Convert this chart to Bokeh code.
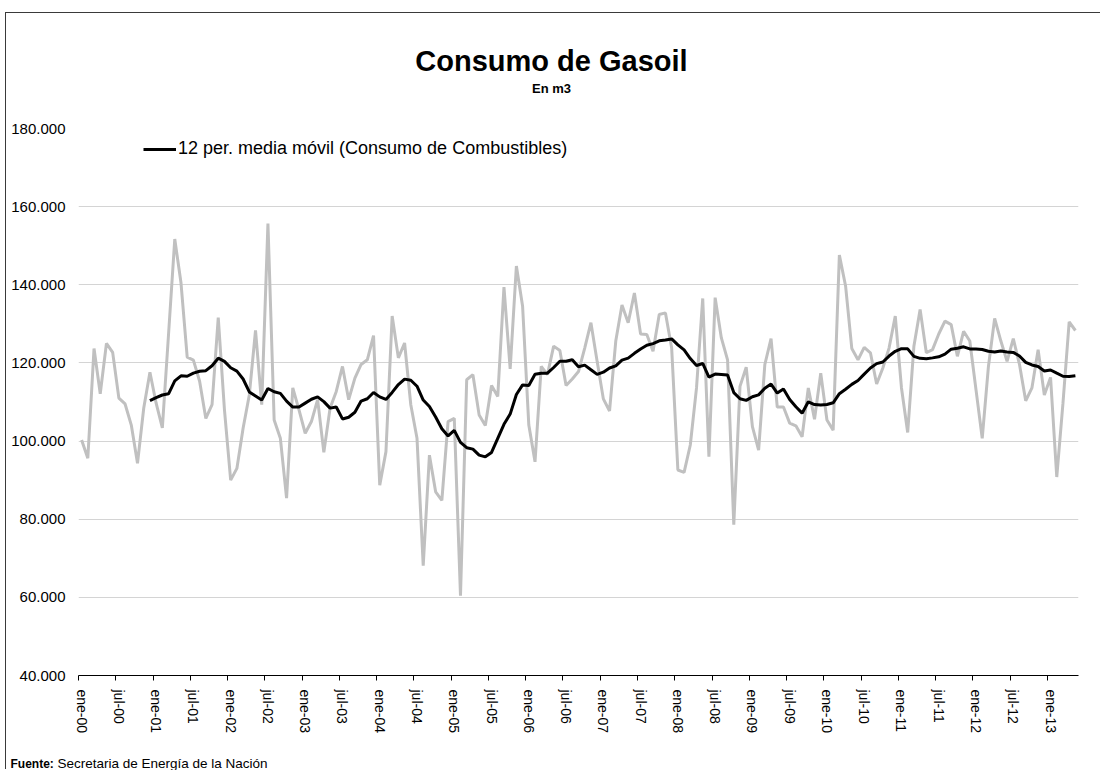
import pandas as pd
from bokeh.plotting import figure
from bokeh.layouts import column
from bokeh.models import (Range1d, FixedTicker, Legend, LegendItem, ColumnDataSource)
from bokeh.core.properties import value
from bokeh.embed import file_html
from bokeh.resources import INLINE

# Monthly diesel consumption (m3)
c2000 = [100300, 95600, 123700, 112100, 125000, 122700, 111000, 109500, 104100, 94300, 108400, 117600]
c2001 = [109700, 103400, 127400, 151700, 140500, 121500, 120700, 115300, 105800, 109300, 131600, 108000]
c2002 = [90000, 93000, 103300, 111800, 128300, 109300, 155700, 105400, 100700, 85400, 113600, 108000]
c2003 = [102000, 105000, 110600, 97100, 108400, 112700, 119100, 110600, 116100, 119600, 120800, 127000]
c2004 = [88700, 97300, 132000, 121300, 125100, 109300, 100700, 68100, 96400, 87000, 84800, 105000]
c2005 = [105800, 60400, 115700, 117000, 106700, 104000, 114200, 111400, 139400, 118500, 144800, 134500]
c2006 = [104100, 94700, 119100, 117000, 124300, 123200, 114200, 115900, 117800, 123800, 130300, 120400]
c2007 = [110800, 107700, 125600, 134800, 130300, 137900, 127400, 127300, 123000, 132400, 132800, 123800]
c2008 = [92600, 92000, 99000, 113600, 136500, 96000, 136700, 126400, 120800, 78600, 114000, 118900]
c2009 = [103700, 97700, 119600, 126200, 108700, 108700, 104600, 103900, 101100, 113600, 105600, 117400]
c2010 = [105400, 102800, 147600, 139700, 123700, 120800, 124000, 122600, 114600, 118700, 123800, 132000]
c2011 = [113600, 102200, 124300, 133700, 122600, 123400, 127400, 130700, 129800, 121700, 128100, 125600]
c2012 = [113100, 100700, 119100, 131400, 125600, 120400, 126200, 119600, 110300, 113600, 123400, 111800]
c2013 = [116300, 90800, 109700, 130500, 128300]

years = ["00", "01", "02", "03", "04", "05", "06", "07", "08", "09", "10", "11", "12", "13"]
months = ["ene", "feb", "mar", "abr", "may", "jun", "jul", "ago", "sep", "oct", "nov", "dic"]
y_ticks = [40000, 60000, 80000, 100000, 120000, 140000, 160000, 180000]
y_tick_labels = ["40.000", "60.000", "80.000", "100.000", "120.000", "140.000", "160.000", "180.000"]

title_text = "Consumo de Gasoil"
subtitle_text = "En m3"
legend_text = "12 per. media móvil (Consumo de Combustibles)"
source_bold = "Fuente:"
source_text = "Secretaria de Energía de la Nación"

consumo = (c2000 + c2001 + c2002 + c2003 + c2004 + c2005 + c2006 + c2007 +
           c2008 + c2009 + c2010 + c2011 + c2012 + c2013)
n = len(consumo)
cat_labels = [f"{m}-{y}" for y in years for m in months][:n]
xs = list(range(n))

# 12-period moving average (Excel trendline over the same series)
ma = pd.Series(consumo, dtype=float).rolling(12).mean()
ma_src = ColumnDataSource(dict(x=[i for i in xs if i >= 11], y=list(ma.dropna())))
src = ColumnDataSource(dict(x=xs, y=consumo))

FONT = "Liberation Sans"
W = 1095


def text_panel(h):
    f = figure(width=W, height=h, output_backend="svg", toolbar_location=None,
               x_range=Range1d(0, W), y_range=Range1d(0, h),
               x_axis_type=None, y_axis_type=None,
               min_border=0, min_border_left=0, min_border_right=0,
               min_border_top=0, min_border_bottom=0)
    f.outline_line_color = None
    f.grid.visible = False
    f.frame_align = False
    return f


# ---- header (title + subtitle)
head = text_panel(105)
head.text(x=[545], y=[58], text=[title_text], text_align="center", text_baseline="middle",
          text_font=value(FONT), text_font_style="bold", text_font_size="29px", text_color="black")
head.text(x=[545], y=[30], text=[subtitle_text], text_align="center", text_baseline="middle",
          text_font=value(FONT), text_font_style="bold", text_font_size="13px", text_color="black")

# ---- main chart
p = figure(width=W, height=618, output_backend="svg", toolbar_location=None,
           x_range=Range1d(-0.5, n - 0.5), y_range=Range1d(40000, 180000),
           min_border_left=72, min_border_right=23, min_border_top=10,
           min_border_bottom=60)
p.outline_line_color = None
p.frame_align = False

p.xgrid.visible = False
p.ygrid.ticker = FixedTicker(ticks=y_ticks[1:-1])
p.ygrid.grid_line_color = "#d4d4d4"
p.ygrid.grid_line_width = 1

p.yaxis.ticker = FixedTicker(ticks=y_ticks)
p.yaxis.major_label_overrides = dict(zip(y_ticks, y_tick_labels))
p.yaxis.axis_line_color = None
p.yaxis.major_tick_line_color = None
p.yaxis.minor_tick_line_color = None
p.yaxis.major_tick_out = 0
p.yaxis.major_tick_in = 0
p.yaxis.major_label_standoff = 13
p.yaxis.major_label_text_font = FONT
p.yaxis.major_label_text_font_size = "15px"
p.yaxis.major_label_text_color = "black"

label_idx = list(range(0, n, 6))
p.xaxis.ticker = FixedTicker(ticks=label_idx, minor_ticks=[i - 0.5 for i in label_idx])
p.xaxis.major_label_overrides = {i: cat_labels[i] for i in label_idx}
p.xaxis.major_label_orientation = "vertical"
p.xaxis.major_tick_out = 0
p.xaxis.major_tick_in = 0
p.xaxis.minor_tick_out = 5
p.xaxis.minor_tick_in = 0
p.xaxis.minor_tick_line_color = "black"
p.xaxis.axis_line_color = "black"
p.xaxis.major_label_standoff = 9
p.xaxis.major_label_text_font = FONT
p.xaxis.major_label_text_font_size = "14px"
p.xaxis.major_label_text_color = "black"

p.line("x", "y", source=src, line_color="#c0c0c0", line_width=3)
r_ma = p.line("x", "y", source=ma_src, line_color="black", line_width=3)

legend = Legend(items=[LegendItem(label=legend_text, renderers=[r_ma])],
                location=(65, 516), border_line_color=None, background_fill_alpha=0,
                padding=0, margin=0, glyph_width=33, glyph_height=20, label_standoff=2,
                label_text_font=FONT, label_text_font_size="18px", label_text_color="black")
p.add_layout(legend)

# ---- footer (source)
foot = text_panel(34)
foot.text(x=[4], y=[7], text=[source_bold], text_align="left", text_baseline="middle",
          text_font=value(FONT), text_font_style="bold", text_font_size="12px", text_color="black")
foot.text(x=[51], y=[7], text=[source_text], text_align="left", text_baseline="middle",
          text_font=value(FONT), text_font_size="13.5px", text_color="black")

layout = column(head, p, foot, spacing=0)
layout.margin = (13, 0, 0, 6)
layout.styles = {"box-shadow": "-1px -1px 0 0 #3a3a3a"}

open("out.html", "w").write(file_html(layout, INLINE))
